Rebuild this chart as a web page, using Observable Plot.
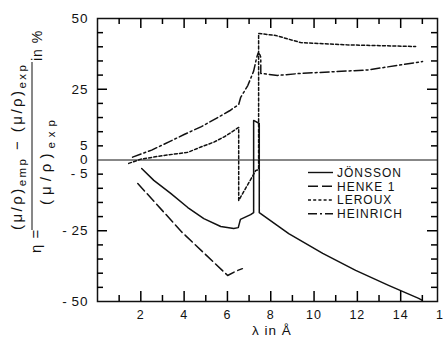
<!DOCTYPE html>
<html><head><meta charset="utf-8">
<script src="https://cdn.jsdelivr.net/npm/d3@7"></script>
<script src="https://cdn.jsdelivr.net/npm/@observablehq/plot@0.6"></script>
<style>body{margin:0;background:#fff} svg{display:block}</style>
</head><body><div id="chart"></div>
<script>
// ---- data ----
const seriesNames = ["JÖNSSON", "HENKE 1", "LEROUX", "HEINRICH"];
const jonsson = [[2.04,-3.0],[2.6,-7.2],[3.38,-11.8],[4.17,-16.8],[4.91,-20.7],[5.69,-23.5],[6.29,-24.2],[6.5,-23.9],[6.6,-21.0],[7.07,-19.3],[7.21,-18.6],[7.21,14.0],[7.47,12.9],[7.47,-18.6],[7.55,-19.0],[8.83,-26.0],[10.4,-33.0],[11.92,-39.0],[13.44,-44.3],[14.83,-48.9],[15.0,-49.6]];
const henke = [[1.86,-8.3],[3.9,-25.5],[6.01,-40.8],[6.38,-39.3],[6.69,-38.4]];
const leroux = [[1.44,-1.2],[2.0,0.3],[3.06,1.6],[4.17,2.7],[4.77,4.6],[5.37,6.3],[5.9,8.4],[6.52,11.5],[6.52,-14.3],[7.31,-3.7],[7.44,-3.4],[7.44,44.7],[8.23,44.0],[9.38,41.5],[11.5,40.7],[14.69,40.1]];
const heinrich = [[1.62,1.0],[2.5,3.5],[3.3,6.4],[4.0,9.0],[4.8,11.8],[5.55,15.0],[6.1,17.4],[6.52,19.6],[6.61,22.1],[6.94,26.3],[7.21,31.4],[7.35,36.2],[7.42,37.8],[7.5,37.2],[7.54,36.3],[7.54,30.6],[8.32,29.9],[9.38,30.6],[12.47,31.8],[15.01,34.8]];
const xTickLabels = [2,4,6,8,10,12,14,16];
const xMajorTicks = [2,4,6,8,10,12,14];
const xMinorTicks = [1,3,5,7,9,11,13,15];
const yTickLabels = [50,25,5,0,-5,-25,-50];
const yMajorTicks = [-25,25];
const yMinorTicks = [-45,-40,-35,-30,-20,-15,-10,-5,5,10,15,20,30,35,40,45];

// ---- layout ----
const W = 443, H = 337, mt = 18, mb = 36, ml = 97, mr = 6;
const xDomain = [0, 15.7], yDomain = [-50, 50];
const plotW = W - ml - mr, plotH = H - mt - mb;
const xPerPx = (xDomain[1] - xDomain[0]) / plotW, yPerPx = (yDomain[1] - yDomain[0]) / plotH;
const ink = "#111";
const font = "'Liberation Sans', Arial, Helvetica, sans-serif";
const dashes = {"JÖNSSON": null, "HENKE 1": "10,4", "LEROUX": "3,2.2", "HEINRICH": "9,3,2,3"};
const seriesData = {"JÖNSSON": jonsson, "HENKE 1": henke, "LEROUX": leroux, "HEINRICH": heinrich};
const rows = seriesNames.flatMap(s => seriesData[s].map(([x, y]) => ({series: s, x, y})));

// inward ticks, as short rules in data space
const tk = {stroke: "black", strokeWidth: 1.5};
const bottomTicks = (ticks, len) => Plot.ruleX(ticks, {x: d => d, y1: yDomain[0], y2: yDomain[0] + len * yPerPx, ...tk});
const topTicks = (ticks, len) => Plot.ruleX(ticks, {x: d => d, y1: yDomain[1], y2: yDomain[1] - len * yPerPx, ...tk});
const leftTicks = (ticks, len) => Plot.ruleY(ticks, {y: d => d, x1: xDomain[0], x2: xDomain[0] + len * xPerPx, ...tk});
const rightTicks = (ticks, len) => Plot.ruleY(ticks, {y: d => d, x1: xDomain[1], x2: xDomain[1] - len * xPerPx, ...tk});

const chart = Plot.plot({
  width: W, height: H,
  marginTop: mt, marginBottom: mb, marginLeft: ml, marginRight: mr,
  x: {domain: xDomain},
  y: {domain: yDomain},
  marks: [
    Plot.frame({stroke: ink, strokeWidth: 1.5}),
    Plot.ruleY([0], {stroke: ink, strokeWidth: 1}),
    ...seriesNames.map(s => Plot.line(rows.filter(d => d.series === s), {
      x: "x", y: "y", stroke: ink, strokeWidth: 1.5, strokeDasharray: dashes[s]
    })),
    bottomTicks(xMajorTicks, 10), bottomTicks(xMinorTicks, 6),
    topTicks(xMajorTicks, 10), topTicks(xMinorTicks, 6),
    leftTicks(yMajorTicks, 10), leftTicks(yMinorTicks, 6),
    rightTicks(yMajorTicks, 10), rightTicks(yMinorTicks, 6),
    Plot.axisX({ticks: xTickLabels, tickSize: 0, tickPadding: 9, fontSize: 12.5, label: null}),
    Plot.axisY({ticks: yTickLabels, tickSize: 0, tickPadding: 9, fontSize: 13.5, label: null,
      tickFormat: d => d < 0 ? "-\u2009" + (-d) : String(d)})
  ]
});
document.getElementById("chart").appendChild(chart);
const svg = d3.select(chart);
svg.attr("font-family", font).style("letter-spacing", "1px").style("color", ink);

// ---- extra text: axis titles and legend ----
const g = svg.append("g").attr("fill", ink).attr("text-anchor", "start")
  .style("font-family", font).style("letter-spacing", "1px");

g.append("text").attr("x", 272).attr("y", 335).attr("text-anchor", "middle")
  .attr("font-size", 13.5).text("λ in Å");

// y label: η = ((μ/ρ)emp − (μ/ρ)exp) / (μ/ρ)exp in %
const num = g.append("text").attr("transform", "translate(22,230) rotate(-90)")
  .attr("font-size", 15).attr("textLength", 166).attr("lengthAdjust", "spacing");
num.append("tspan").text("(μ/ρ)");
num.append("tspan").attr("font-size", 11.5).attr("dy", 4).text("emp");
num.append("tspan").attr("dy", -4).text(" − (μ/ρ)");
num.append("tspan").attr("font-size", 11.5).attr("dy", 4).text("exp");

const den = g.append("text").attr("transform", "translate(51,205) rotate(-90)")
  .attr("font-size", 15).attr("textLength", 86).attr("lengthAdjust", "spacing");
den.append("tspan").text("(μ/ρ)");
den.append("tspan").attr("font-size", 11.5).attr("dy", 4).text("exp");

g.append("line").attr("x1", 32).attr("x2", 32).attr("y1", 62).attr("y2", 230)
  .attr("stroke", ink).attr("stroke-width", 1);
g.append("text").attr("transform", "translate(41,253) rotate(-90)")
  .attr("font-size", 15).text("η =");
g.append("text").attr("transform", "translate(42,61) rotate(-90)")
  .attr("font-size", 14).text("in %");

// legend
const legY = [172.5, 186.3, 200, 213.8];
seriesNames.forEach((s, i) => {
  g.append("line").attr("x1", 308).attr("x2", 333).attr("y1", legY[i]).attr("y2", legY[i])
    .attr("stroke", ink).attr("stroke-width", 1.4).attr("stroke-dasharray", dashes[s]);
  g.append("text").attr("x", 337).attr("y", legY[i]).attr("dy", "0.36em")
    .attr("font-size", 12).text(s);
});
</script>
</body></html>
